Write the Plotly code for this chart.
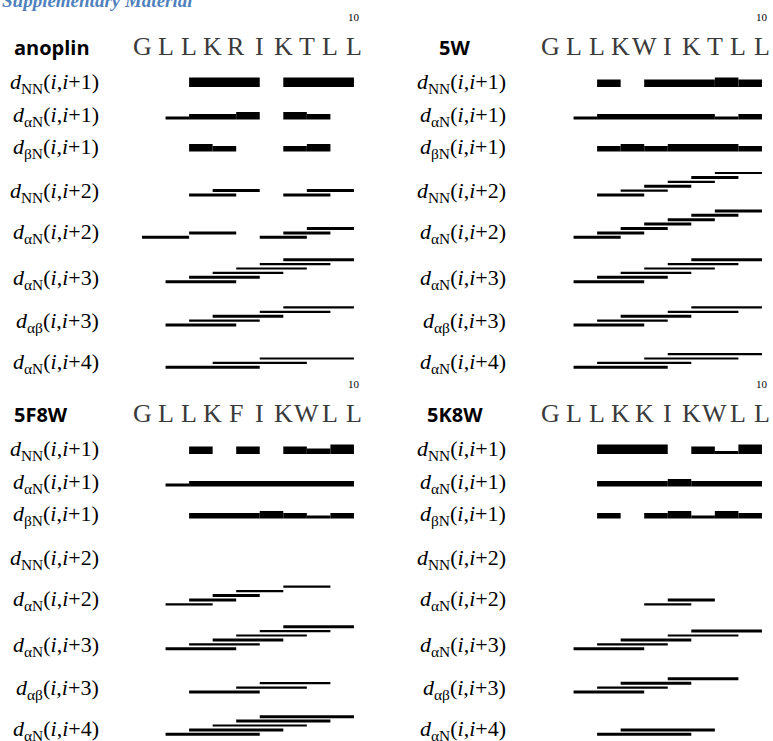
import plotly.graph_objects as go

# ---------------- data ----------------
seq_anoplin = list("GLLKRIKTLL")
seq_5W = list("GLLKWIKTLL")
seq_5F8W = list("GLLKFIKWLL")
seq_5K8W = list("GLLKKIKWLL")

# row definitions: (subscript, sequence separation n)
row_defs = [("NN", 1), ("αN", 1), ("βN", 1), ("NN", 2), ("αN", 2), ("αN", 3), ("αβ", 3), ("αN", 4)]

# each connection: (residue i, NOE intensity class) spanning i -> i+n
anoplin_dNN1 = [(3, 4), (4, 4), (5, 4), (7, 4), (8, 4), (9, 4)]
anoplin_daN1 = [(2, 1), (3, 2), (4, 2), (5, 3), (7, 3), (8, 2)]
anoplin_dbN1 = [(3, 3), (4, 2), (7, 2), (8, 3)]
anoplin_dNN2 = [(3, 2), (4, 2), (7, 2), (8, 2)]
anoplin_daN2 = [(1, 2), (3, 2), (6, 2), (7, 2), (8, 2)]
anoplin_daN3 = [(2, 2), (3, 2), (4, 1), (5, 1), (6, 1), (7, 2)]
anoplin_dab3 = [(2, 2), (3, 1), (4, 2), (6, 1), (7, 1)]
anoplin_daN4 = [(2, 2), (4, 1), (6, 1)]

w5_dNN1 = [(3, 3), (5, 3), (6, 3), (7, 3), (8, 4), (9, 3)]
w5_daN1 = [(2, 1), (3, 2), (4, 2), (5, 2), (6, 2), (7, 2), (8, 1), (9, 2)]
w5_dbN1 = [(3, 2), (4, 3), (5, 2), (6, 3), (7, 3), (8, 3), (9, 2)]
w5_dNN2 = [(3, 2), (4, 1), (5, 2), (6, 1), (7, 2), (8, 1)]
w5_daN2 = [(2, 2), (3, 2), (4, 2), (5, 2), (6, 2), (7, 2), (8, 2)]
w5_daN3 = [(2, 2), (3, 2), (4, 1), (5, 1), (6, 1), (7, 2)]
w5_dab3 = [(2, 2), (3, 1), (4, 2), (6, 1), (7, 1)]
w5_daN4 = [(2, 2), (3, 1), (5, 1), (6, 1)]

f5w8_dNN1 = [(3, 3), (5, 3), (7, 3), (8, 2), (9, 4)]
f5w8_daN1 = [(2, 1), (3, 2), (4, 2), (5, 2), (6, 2), (7, 2), (8, 2), (9, 2)]
f5w8_dbN1 = [(3, 2), (4, 2), (5, 2), (6, 3), (7, 2), (8, 1), (9, 2)]
f5w8_dNN2 = []
f5w8_daN2 = [(2, 1), (3, 2), (4, 2), (5, 1), (7, 1)]
f5w8_daN3 = [(2, 2), (3, 1), (4, 2), (5, 1), (6, 1), (7, 2)]
f5w8_dab3 = [(3, 2), (5, 1), (6, 1)]
f5w8_daN4 = [(2, 2), (3, 2), (4, 1), (5, 2), (6, 2)]

k5w8_dNN1 = [(3, 4), (4, 4), (5, 4), (7, 3), (8, 1), (9, 4)]
k5w8_daN1 = [(3, 2), (4, 2), (5, 2), (6, 3), (7, 2), (8, 2), (9, 2)]
k5w8_dbN1 = [(3, 2), (5, 2), (6, 3), (7, 1), (8, 3), (9, 2)]
k5w8_dNN2 = []
k5w8_daN2 = [(5, 1), (6, 2)]
k5w8_daN3 = [(2, 2), (3, 1), (4, 2), (6, 1), (7, 2)]
k5w8_dab3 = [(2, 2), (3, 1), (4, 2), (6, 2)]
k5w8_daN4 = [(3, 2), (4, 2)]

panels = [
    ("anoplin", seq_anoplin, [anoplin_dNN1, anoplin_daN1, anoplin_dbN1, anoplin_dNN2,
                              anoplin_daN2, anoplin_daN3, anoplin_dab3, anoplin_daN4], 0, 0),
    ("5W", seq_5W, [w5_dNN1, w5_daN1, w5_dbN1, w5_dNN2, w5_daN2, w5_daN3, w5_dab3, w5_daN4], 1, 0),
    ("5F8W", seq_5F8W, [f5w8_dNN1, f5w8_daN1, f5w8_dbN1, f5w8_dNN2, f5w8_daN2, f5w8_daN3,
                        f5w8_dab3, f5w8_daN4], 0, 1),
    ("5K8W", seq_5K8W, [k5w8_dNN1, k5w8_daN1, k5w8_dbN1, k5w8_dNN2, k5w8_daN2, k5w8_daN3,
                        k5w8_dab3, k5w8_daN4], 1, 1),
]

# ---------------- layout constants ----------------
W, H = 773, 741
RES1_PX = [142.0, 550.0]
STEP = 23.55
COL_DOM = [[0.0, 0.5], [0.5, 1.0]]
PANEL_DY = [0, 367]
BAR_BOTTOM = [87.0, 119.5, 151.5]
LINE_BASE = [195.0, 237.3, 281.7, 325.0, 367.3]
LABEL_Y = [83, 116, 147.5, 191.5, 233, 279, 321.5, 362.5]
SEQ_Y = 46.5
NUM_Y = 17
BAR_H = {1: 3.0, 2: 5.5, 3: 7.5, 4: 9.5}
LINE_H = {1: 2.2, 2: 3.0}
LEVEL_STEP = 4.4
LABEL_RIGHT = [101, 508]


def xrange_for(col):
    p0, p1 = COL_DOM[col][0] * W, COL_DOM[col][1] * W
    return [1 + (p0 - RES1_PX[col]) / STEP, 1 + (p1 - RES1_PX[col]) / STEP]


fig = go.Figure()
annotations = []

for name, seq, rows, col, prow in panels:
    dy = PANEL_DY[prow]
    xa = "x" if col == 0 else "x2"
    bases, lens, ys, hs = [], [], [], []
    for r, ((sub, n), data) in enumerate(zip(row_defs, rows)):
        if n == 1:
            # merge consecutive segments of equal intensity into one bar
            runs = []
            for i, k in sorted(data):
                if runs and runs[-1][1] == i and runs[-1][2] == k:
                    runs[-1][1] = i + 1
                else:
                    runs.append([i, i + 1, k])
            for a, b, k in runs:
                h = BAR_H[k]
                bases.append(a)
                lens.append(b - a)
                ys.append(BAR_BOTTOM[r] + dy - h / 2)
                hs.append(h)
        else:
            level, prev_end = -1, None
            for i, k in sorted(data):
                if prev_end is not None and i <= prev_end:
                    level += 1
                else:
                    level = 0
                prev_end = i + n
                bases.append(i)
                lens.append(n)
                ys.append(LINE_BASE[r - 3] + dy - level * LEVEL_STEP)
                hs.append(LINE_H[k])
        # row label
        annotations.append(dict(
            text=f"<i>d</i><sub>{sub}</sub>(<i>i</i>,<i>i</i>+{n})",
            xref="paper", yref="y", x=LABEL_RIGHT[col] / W, y=LABEL_Y[r] + dy,
            xanchor="right", yanchor="middle", showarrow=False,
            font=dict(family="Liberation Serif", size=22, color="black")))
    fig.add_trace(go.Bar(orientation="h", base=bases, x=lens, y=ys, width=hs,
                         xaxis=xa, yaxis="y",
                         marker=dict(color="black", line=dict(width=0)),
                         hoverinfo="skip", showlegend=False))
    # panel title
    if col == 0:
        annotations.append(dict(text=f"<b>{name}</b>", xref="paper", yref="y",
                                x=12 / W, y=47 + dy, xanchor="left", yanchor="middle",
                                showarrow=False,
                                font=dict(family="Open Sans", size=20, color="black")))
    else:
        annotations.append(dict(text=f"<b>{name}</b>", xref="paper", yref="y",
                                x=455 / W, y=47 + dy, xanchor="center", yanchor="middle",
                                showarrow=False,
                                font=dict(family="Open Sans", size=20, color="black")))
    # sequence letters
    for j, ch in enumerate(seq):
        annotations.append(dict(text=ch, xref=xa, yref="y", x=j + 1, y=SEQ_Y + dy,
                                xanchor="center", yanchor="middle", showarrow=False,
                                font=dict(family="Liberation Serif", size=26, color="#3a3a3a")))
    annotations.append(dict(text=str(len(seq)), xref=xa, yref="y", x=len(seq), y=NUM_Y + dy,
                            xanchor="center", yanchor="middle", showarrow=False,
                            font=dict(family="Liberation Serif", size=11, color="black")))

annotations.append(dict(text="<b><i>Supplementary Material</i></b>", xref="paper", yref="y",
                        x=0, y=13, xanchor="left", yanchor="bottom", showarrow=False,
                        font=dict(family="Liberation Serif", size=19, color="#4f81bd")))

fig.update_layout(
    width=W, height=H, margin=dict(l=0, r=0, t=0, b=0),
    paper_bgcolor="white", plot_bgcolor="white",
    barmode="overlay", showlegend=False,
    xaxis=dict(domain=COL_DOM[0], range=xrange_for(0), visible=False, fixedrange=True),
    xaxis2=dict(domain=COL_DOM[1], range=xrange_for(1), visible=False, fixedrange=True, anchor="y"),
    yaxis=dict(domain=[0, 1], range=[H, 0], visible=False, fixedrange=True),
    annotations=annotations,
)
fig.write_html("out.html")
